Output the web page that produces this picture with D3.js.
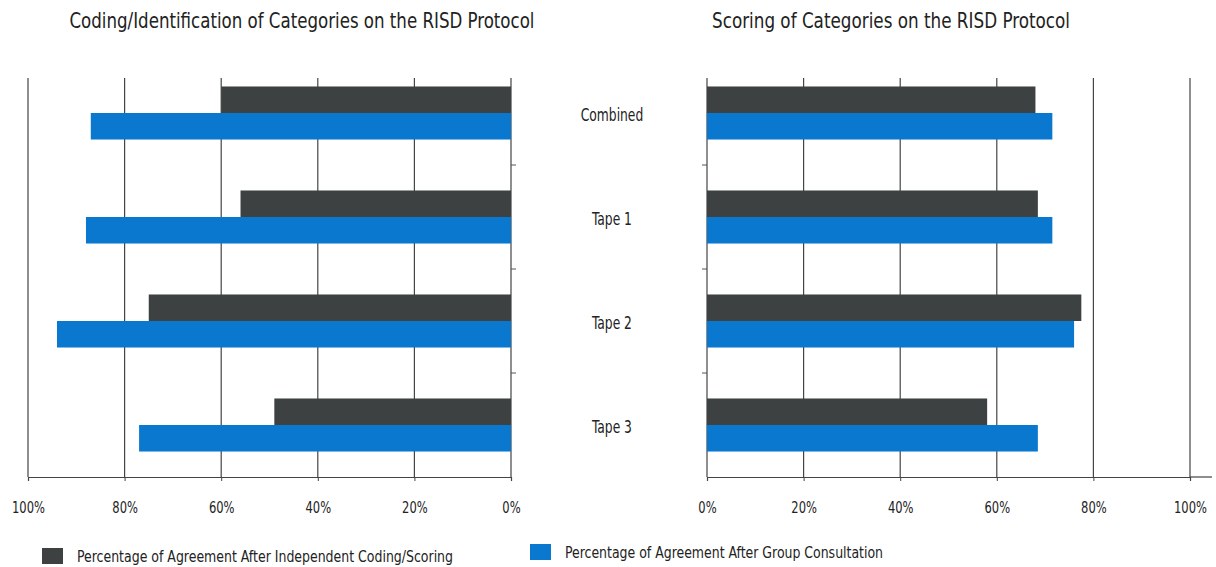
<!DOCTYPE html>
<html><head><meta charset="utf-8">
<script src="https://cdn.jsdelivr.net/npm/d3@7/dist/d3.min.js"></script>
<style>
body{margin:0;background:#fff;}
text{font-family:"DejaVu Sans Condensed","Liberation Sans Narrow",sans-serif;fill:#222;}
</style></head>
<body><svg id="c" width="1216" height="567"></svg>
<script>
const categories = ["Combined","Tape 1","Tape 2","Tape 3"];
const codingIndependent = [60, 56, 75, 49];
const codingGroup = [87, 88, 94, 77];
const scoringIndependent = [68, 68.5, 77.5, 58];
const scoringGroup = [71.5, 71.5, 76, 68.5];
const tickValues = [0, 20, 40, 60, 80, 100];
const seriesNames = ["Percentage of Agreement After Independent Coding/Scoring","Percentage of Agreement After Group Consultation"];
const colors = ["#3d4142","#0a78cf"];

const svg = d3.select("#c");
const y = d3.scaleBand().domain(categories).range([61, 477]).paddingInner(0.49).paddingOuter(0.245);
const sub = d3.scaleBand().domain([0,1]).range([0, y.bandwidth()]);

function condense(sel, width, factor) {
  sel.each(function() {
    const w = width != null ? width : this.getComputedTextLength() * (factor || 0.78);
    d3.select(this).attr("textLength", w).attr("lengthAdjust", "spacingAndGlyphs");
  });
}

function panel(xScale, indep, group, title, titleX, titleW, axisLineX, tickSide) {
  const g = svg.append("g");
  g.selectAll("line.grid").data(tickValues).join("line")
    .attr("x1", d => xScale(d)).attr("x2", d => xScale(d))
    .attr("y1", 78).attr("y2", 477)
    .attr("stroke", "#444").attr("stroke-width", 1.2);
  [indep, group].forEach((vals, si) => {
    g.selectAll("rect.s" + si).data(categories).join("rect")
      .attr("x", (d, i) => Math.min(xScale(0), xScale(vals[i])))
      .attr("width", (d, i) => Math.abs(xScale(vals[i]) - xScale(0)))
      .attr("y", d => y(d) + sub(si))
      .attr("height", sub.bandwidth())
      .attr("fill", colors[si]);
  });
  const ax = g.append("g").attr("transform", "translate(0,477)")
    .call(d3.axisBottom(xScale).tickValues(tickValues).tickFormat(d => d + "%").tickSize(4).tickPadding(21));
  ax.select(".domain").attr("stroke", "#444").attr("stroke-width", 1.2);
  ax.selectAll(".tick line").attr("stroke", "#444");
  const tl = ax.selectAll("text").style("font-size", "16px").attr("fill", "#222")
    .style("font-family", '"DejaVu Sans Condensed","Liberation Sans Narrow",sans-serif');
  condense(tl, null, 0.8);
  const seps = categories.slice(1).map(c => y(c) - y.step() * y.paddingInner() / 2);
  g.selectAll("line.sep").data(seps).join("line")
    .attr("x1", axisLineX).attr("x2", axisLineX + tickSide * 5)
    .attr("y1", d => d).attr("y2", d => d)
    .attr("stroke", "#555");
  const t = g.append("text").attr("x", titleX).attr("y", 28).attr("text-anchor", "middle")
    .style("font-size", "21px").text(title);
  condense(t, titleW);
  return g;
}

const xL = d3.scaleLinear().domain([0, 100]).range([511, 28]);
const xR = d3.scaleLinear().domain([0, 100]).range([707, 1190]);
panel(xL, codingIndependent, codingGroup, "Coding/Identification of Categories on the RISD Protocol", 302, 465, 511, 1);
panel(xR, scoringIndependent, scoringGroup, "Scoring of Categories on the RISD Protocol", 891, 358, 707, -1);

svg.append("line").attr("x1", 1190).attr("x2", 1212).attr("y1", 477).attr("y2", 477).attr("stroke", "#444").attr("stroke-width", 1.2);

const cl = svg.selectAll("text.cat").data(categories).join("text")
  .attr("x", 612).attr("y", d => y(d) + y.bandwidth() / 2 + 8)
  .attr("text-anchor", "middle").style("font-size", "18px").text(d => d);
condense(cl, null, 0.76);

const leg = [{x: 42, y: 548, w: 376}, {x: 530, y: 544, w: 318}];
leg.forEach((l, i) => {
  svg.append("rect").attr("x", l.x).attr("y", l.y).attr("width", 21).attr("height", 16).attr("fill", colors[i]);
  const t = svg.append("text").attr("x", l.x + 35).attr("y", l.y + 14).style("font-size", "16px").text(seriesNames[i]);
  condense(t, l.w);
});
</script></body></html>
